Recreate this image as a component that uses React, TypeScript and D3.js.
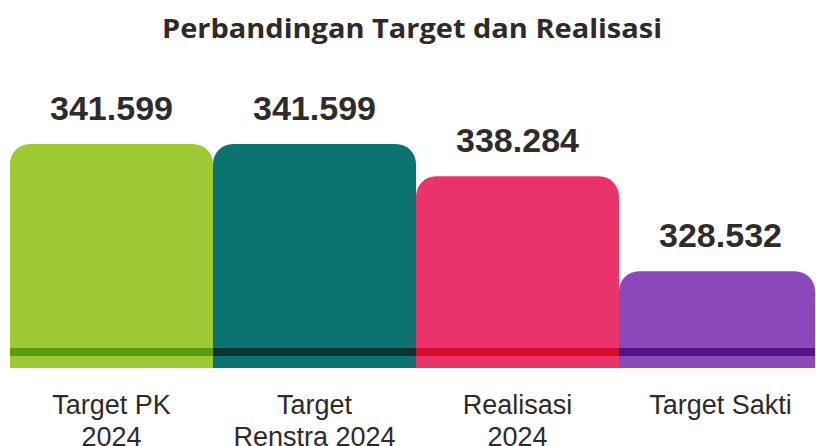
import React from "react";
import * as d3 from "d3";

const categories: string[][] = [["Target PK", "2024"], ["Target", "Renstra 2024"], ["Realisasi", "2024"], ["Target Sakti"]];
const values: number[] = [341.599, 341.599, 338.284, 328.532];
const valueLabels: string[] = ["341.599", "341.599", "338.284", "328.532"];
const barColors: string[] = ["#9ec834", "#0c7371", "#e8346a", "#8c48b9"];
const stripeColors: string[] = ["#5c9c0c", "#063434", "#d40c2e", "#4e1686"];
const title = "Perbandingan Target dan Realisasi";

const W = 816;
const H = 446;
const baseY = 368;
const topY = 144;
const r = 20;

function roundTopRect(x: number, y: number, w: number, h: number, rad: number) {
  const p = d3.path();
  p.moveTo(x, y + h);
  p.lineTo(x, y + rad);
  p.arcTo(x, y, x + rad, y, rad);
  p.lineTo(x + w - rad, y);
  p.arcTo(x + w, y, x + w, y + rad, rad);
  p.lineTo(x + w, y + h);
  p.closePath();
  return p.toString();
}

export default function App() {
  const idx = values.map((_, i) => String(i));
  const x = d3.scaleBand<string>().domain(idx).range([10, 822]).padding(0);
  const y = d3.scaleLinear().domain([318.6, 341.599]).range([baseY, topY]);
  const bw = x.bandwidth();
  return (
    <svg width={W} height={H} style={{ position: "absolute", left: 0, top: 0 }}>
      <rect x={0} y={0} width={W} height={H} fill="#ffffff" />
      <text x={412} y={38} textAnchor="middle" textLength={500} lengthAdjust="spacingAndGlyphs" fontFamily="'Open Sans', 'Noto Sans', sans-serif" fontWeight={700} fontSize={27} fill="#2e2a2a">
        {title}
      </text>
      {values.map((v, i) => {
        const x0 = x(String(i))!;
        const yt = y(v);
        const w = Math.min(bw, W - 1 - x0);
        const cx = x0 + bw / 2;
        return (
          <g key={i}>
            <path d={roundTopRect(x0, yt, w, baseY - yt, r)} fill={barColors[i]} />
            <rect x={x0} y={348} width={w} height={8} fill={stripeColors[i]} />
            <text x={cx} y={yt - 24} textAnchor="middle" fontFamily="'Liberation Sans', Arial, sans-serif" fontWeight={700} fontSize={34} fill="#302b2b">
              {valueLabels[i]}
            </text>
            <text textAnchor="middle" fontFamily="'Liberation Sans', Arial, sans-serif" fontSize={27} fill="#302b2b">
              {categories[i].map((line, j) => (
                <tspan key={j} x={cx} y={414 + j * 32}>{line}</tspan>
              ))}
            </text>
          </g>
        );
      })}
    </svg>
  );
}
